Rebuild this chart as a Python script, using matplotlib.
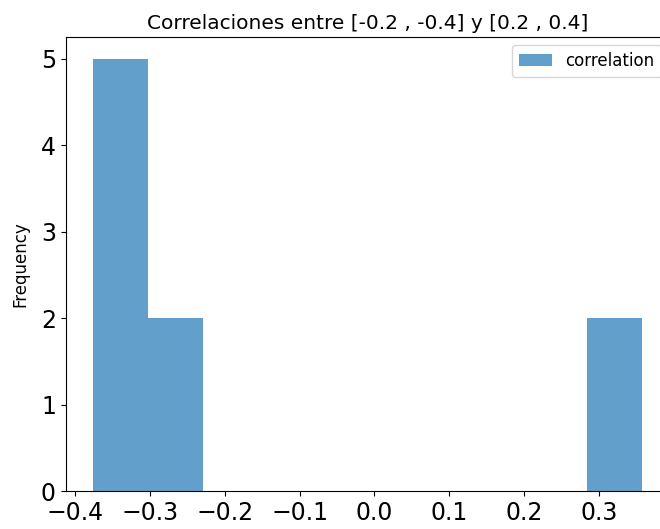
import matplotlib.pyplot as plt
from matplotlib.ticker import MultipleLocator

# correlaciones filtradas entre [-0.4, -0.2] y [0.2, 0.4]
correlation = [-0.376, -0.362, -0.350, -0.333, -0.312, -0.287, -0.240, 0.302, 0.358]
label = 'correlation'
title = 'Correlaciones entre [-0.2 , -0.4] y [0.2 , 0.4]'

fig = plt.figure(figsize=(6.6, 5.29), dpi=100)
ax = fig.add_axes([0.0995, 0.0718, 0.915, 0.858])

ax.hist(correlation, bins=10, alpha=0.7, color='tab:blue', label=label)
ax.set_ylabel('Frequency', fontsize=12, labelpad=8)
ax.set_title(title, fontsize=14.5)
ax.xaxis.set_major_locator(MultipleLocator(0.1))
ax.tick_params(axis='both', labelsize=17)
ax.legend(loc='upper right', fontsize=12)

plt.savefig('out.png', dpi=100)
